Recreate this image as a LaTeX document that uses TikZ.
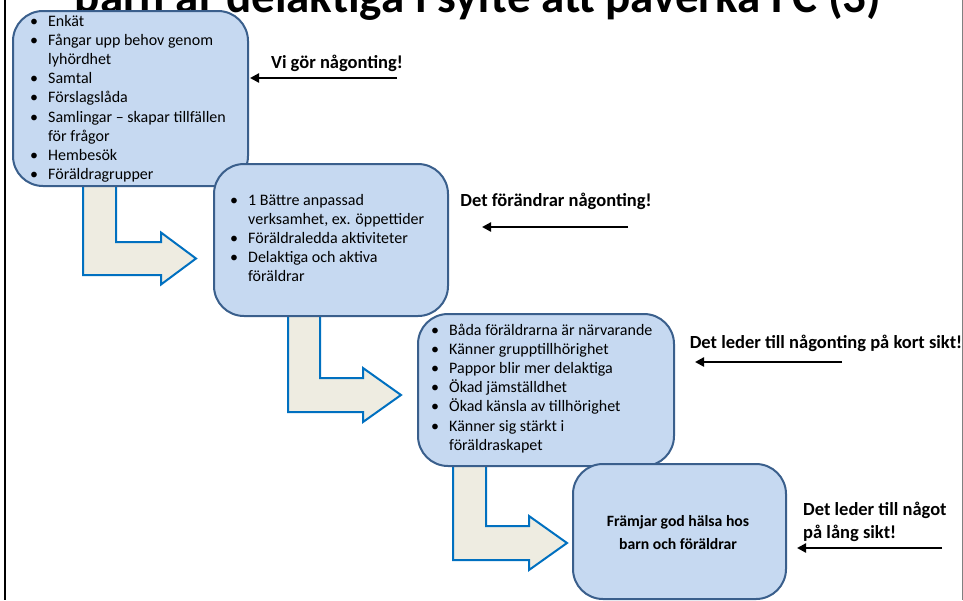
\documentclass[tikz,border=0pt]{standalone}
\usepackage{fontspec}
\setmainfont{Carlito}
\usetikzlibrary{arrows.meta}
\definecolor{boxfill}{HTML}{C6D9F1}
\definecolor{boxline}{HTML}{3A5F8C}
\definecolor{arrfill}{HTML}{EEECE1}
\definecolor{arrline}{HTML}{0070C0}
\newcommand{\bul}{\textbullet}
\tikzset{
 stage/.style={draw=boxline, fill=boxfill, line width=2pt, rounded corners=30pt, inner sep=0pt, anchor=north west},
 bent/.style={draw=arrline, fill=arrfill, line width=2pt, line join=miter},
 lbl/.style={font=\fontsize{18.5}{23}\selectfont\bfseries, inner sep=0pt},
 pointer/.style={line width=2.5pt, -{Triangle[length=9pt,width=9pt]}},
 items/.style={inner sep=0pt, anchor=base west, font=\fontsize{16}{19.2}\selectfont}
}
\begin{document}
\begin{tikzpicture}[x=1pt,y=-1pt]
\useasboundingbox (0,0) rectangle (963,600);
\clip (0,0) rectangle (963,600);
\fill[white] (0,0) rectangle (963,600);
% title (cut off at top)
\node[anchor=base, inner sep=0pt, font=\fontsize{47}{50}\selectfont\bfseries] (title) at (478,12) {barn är delaktiga i syfte att påverka FC (3)};
% frame lines
\draw[line width=2pt, black] (4.5,0) -- (4.5,600);
\draw[line width=1pt, gray] (962,0) -- (962,600);
% bent arrows
\draw[bent] (83,180) -- (83,275) -- (161,275) -- (161,284.5) -- (196,258.5) -- (161,232.5) -- (161,242) -- (116,242) -- (116,180) -- cycle;
\draw[bent] (288,310) -- (288,412) -- (363,412) -- (363,422) -- (401,395) -- (363,368) -- (363,378) -- (320,378) -- (320,310) -- cycle;
\draw[bent] (453,460) -- (453,560) -- (529,560) -- (529,570) -- (567,543) -- (529,516) -- (529,526) -- (486,526) -- (486,460) -- cycle;
% boxes
\node[stage, minimum width=235pt, minimum height=175pt] (b1) at (12,10) {};
\node[items] (t1) at (30,26) {\begin{tabular}[t]{@{}p{18pt}@{}l@{}}
\bul & Enkät\\
\bul & Fångar upp behov genom\\
 & lyhördhet\\
\bul & Samtal\\
\bul & Förslagslåda\\
\bul & Samlingar – skapar tillfällen\\
 & för frågor\\
\bul & Hembesök\\
\bul & Föräldragrupper
\end{tabular}};
\node[stage, minimum width=234pt, minimum height=152pt] (b2) at (213,163) {};
\node[items] (t2) at (230,205) {\begin{tabular}[t]{@{}p{18pt}@{}l@{}}
\bul & 1 Bättre anpassad\\
 & verksamhet, ex. öppettider\\
\bul & Föräldraledda aktiviteter\\
\bul & Delaktiga och aktiva\\
 & föräldrar
\end{tabular}};
\node[stage, minimum width=256pt, minimum height=152pt] (b3) at (417,313) {};
\node[items] (t3) at (431,335) {\begin{tabular}[t]{@{}p{18pt}@{}l@{}}
\bul & Båda föräldrarna är närvarande\\
\bul & Känner grupptillhörighet\\
\bul & Pappor blir mer delaktiga\\
\bul & Ökad jämställdhet\\
\bul & Ökad känsla av tillhörighet\\
\bul & Känner sig stärkt i\\
 & föräldraskapet
\end{tabular}};
\node[stage, minimum width=213pt, minimum height=135pt] (b4) at (572,463) {};
\node[inner sep=0pt, align=center, font=\fontsize{15.7}{23}\selectfont\bfseries] (t4) at (678,533) {Främjar god hälsa hos\\barn och föräldrar};
% side labels
\node[lbl] (l1) at (337,63) {Vi gör någonting!};
\node[lbl] (l2) at (556,201) {Det förändrar någonting!};
\node[lbl] (l3) at (826,343) {Det leder till någonting på kort sikt!};
\node[lbl, anchor=base west] (l4) at (803,515) {\begin{tabular}[t]{@{}l@{}}Det leder till något\\på lång sikt!\end{tabular}};
\coordinate (s1) at (397,78); \coordinate (e1) at (250,78);
\coordinate (s2) at (628,227); \coordinate (e2) at (482,227);
\coordinate (s3) at (842,362); \coordinate (e3) at (695,362);
\coordinate (s4) at (942,548); \coordinate (e4) at (797,548);
\draw[pointer] (s1) -- (e1);
\draw[pointer] (s2) -- (e2);
\draw[pointer] (s3) -- (e3);
\draw[pointer] (s4) -- (e4);
\end{tikzpicture}
\end{document}
